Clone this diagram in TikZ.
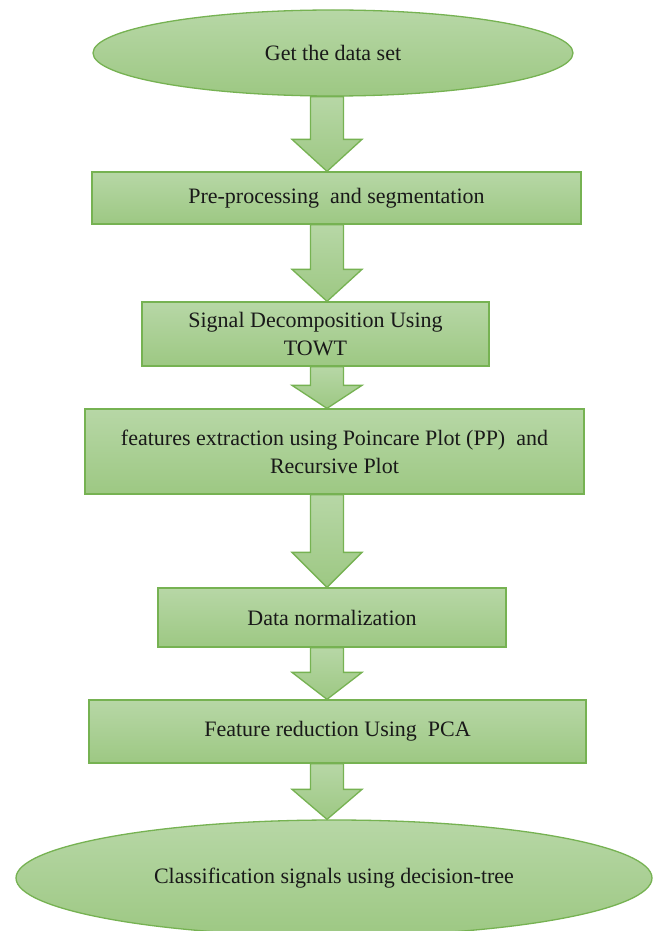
\documentclass[tikz,border=0pt]{standalone}
\usepackage{fontspec}
\setmainfont{Liberation Serif}
\usetikzlibrary{shapes.geometric,calc}
\definecolor{gtop}{RGB}{183,215,166}
\definecolor{gbot}{RGB}{157,200,131}
\definecolor{gline}{RGB}{118,178,82}
\definecolor{txt}{RGB}{25,25,25}
\newcommand\blockarrow[3]{%
  \path[arrowfill] let \p1=(#1.south), \p2=(#2.north) in
    (310.5pt,\y1) -- (343.5pt,\y1) -- (343.5pt,\y2+#3pt) -- (362pt,\y2+#3pt)
    -- (327pt,\y2) -- (292pt,\y2+#3pt) -- (310.5pt,\y2+#3pt) -- cycle;}
\begin{document}
\begin{tikzpicture}[x=1pt,y=-1pt,
  shapebase/.style={draw=gline,line width=1.3pt,top color=gtop,bottom color=gbot,
    inner sep=0pt,font=\fontsize{22}{28}\selectfont,text=txt,align=center},
  box/.style={shapebase,rectangle},
  oval/.style={shapebase,ellipse},
  arrowfill/.style={draw=gline,line width=1.3pt,top color=gtop,bottom color=gbot}]
\fill[white] (0,0) rectangle (660,931);
\useasboundingbox (0,0) rectangle (660,931);
\clip (0,0) rectangle (660,931);
\node[oval,minimum width=480pt,minimum height=86pt] (e1) at (333,53) {Get the data set};
\node[box,minimum width=489pt,minimum height=52pt] (r1) at (336.5,198) {Pre-processing~ and segmentation};
\node[box,minimum width=347pt,minimum height=64pt] (r2) at (315.5,334) {Signal Decomposition Using\\TOWT};
\node[box,minimum width=499pt,minimum height=85pt] (r3) at (334.5,451.5) {features extraction using Poincare Plot (PP)~ and\\Recursive Plot};
\node[box,minimum width=348pt,minimum height=59pt] (r4) at (332,617.5) {Data normalization};
\node[box,minimum width=497pt,minimum height=63pt] (r5) at (337.5,731.5) {Feature reduction Using~ PCA};
\node[oval,minimum width=636pt,minimum height=116pt] (e2) at (334,878) {Classification signals using decision-tree};
\blockarrow{e1}{r1}{32}
\blockarrow{r1}{r2}{32}
\blockarrow{r2}{r3}{23}
\blockarrow{r3}{r4}{35}
\blockarrow{r4}{r5}{27}
\blockarrow{r5}{e2}{30}
\end{tikzpicture}
\end{document}
